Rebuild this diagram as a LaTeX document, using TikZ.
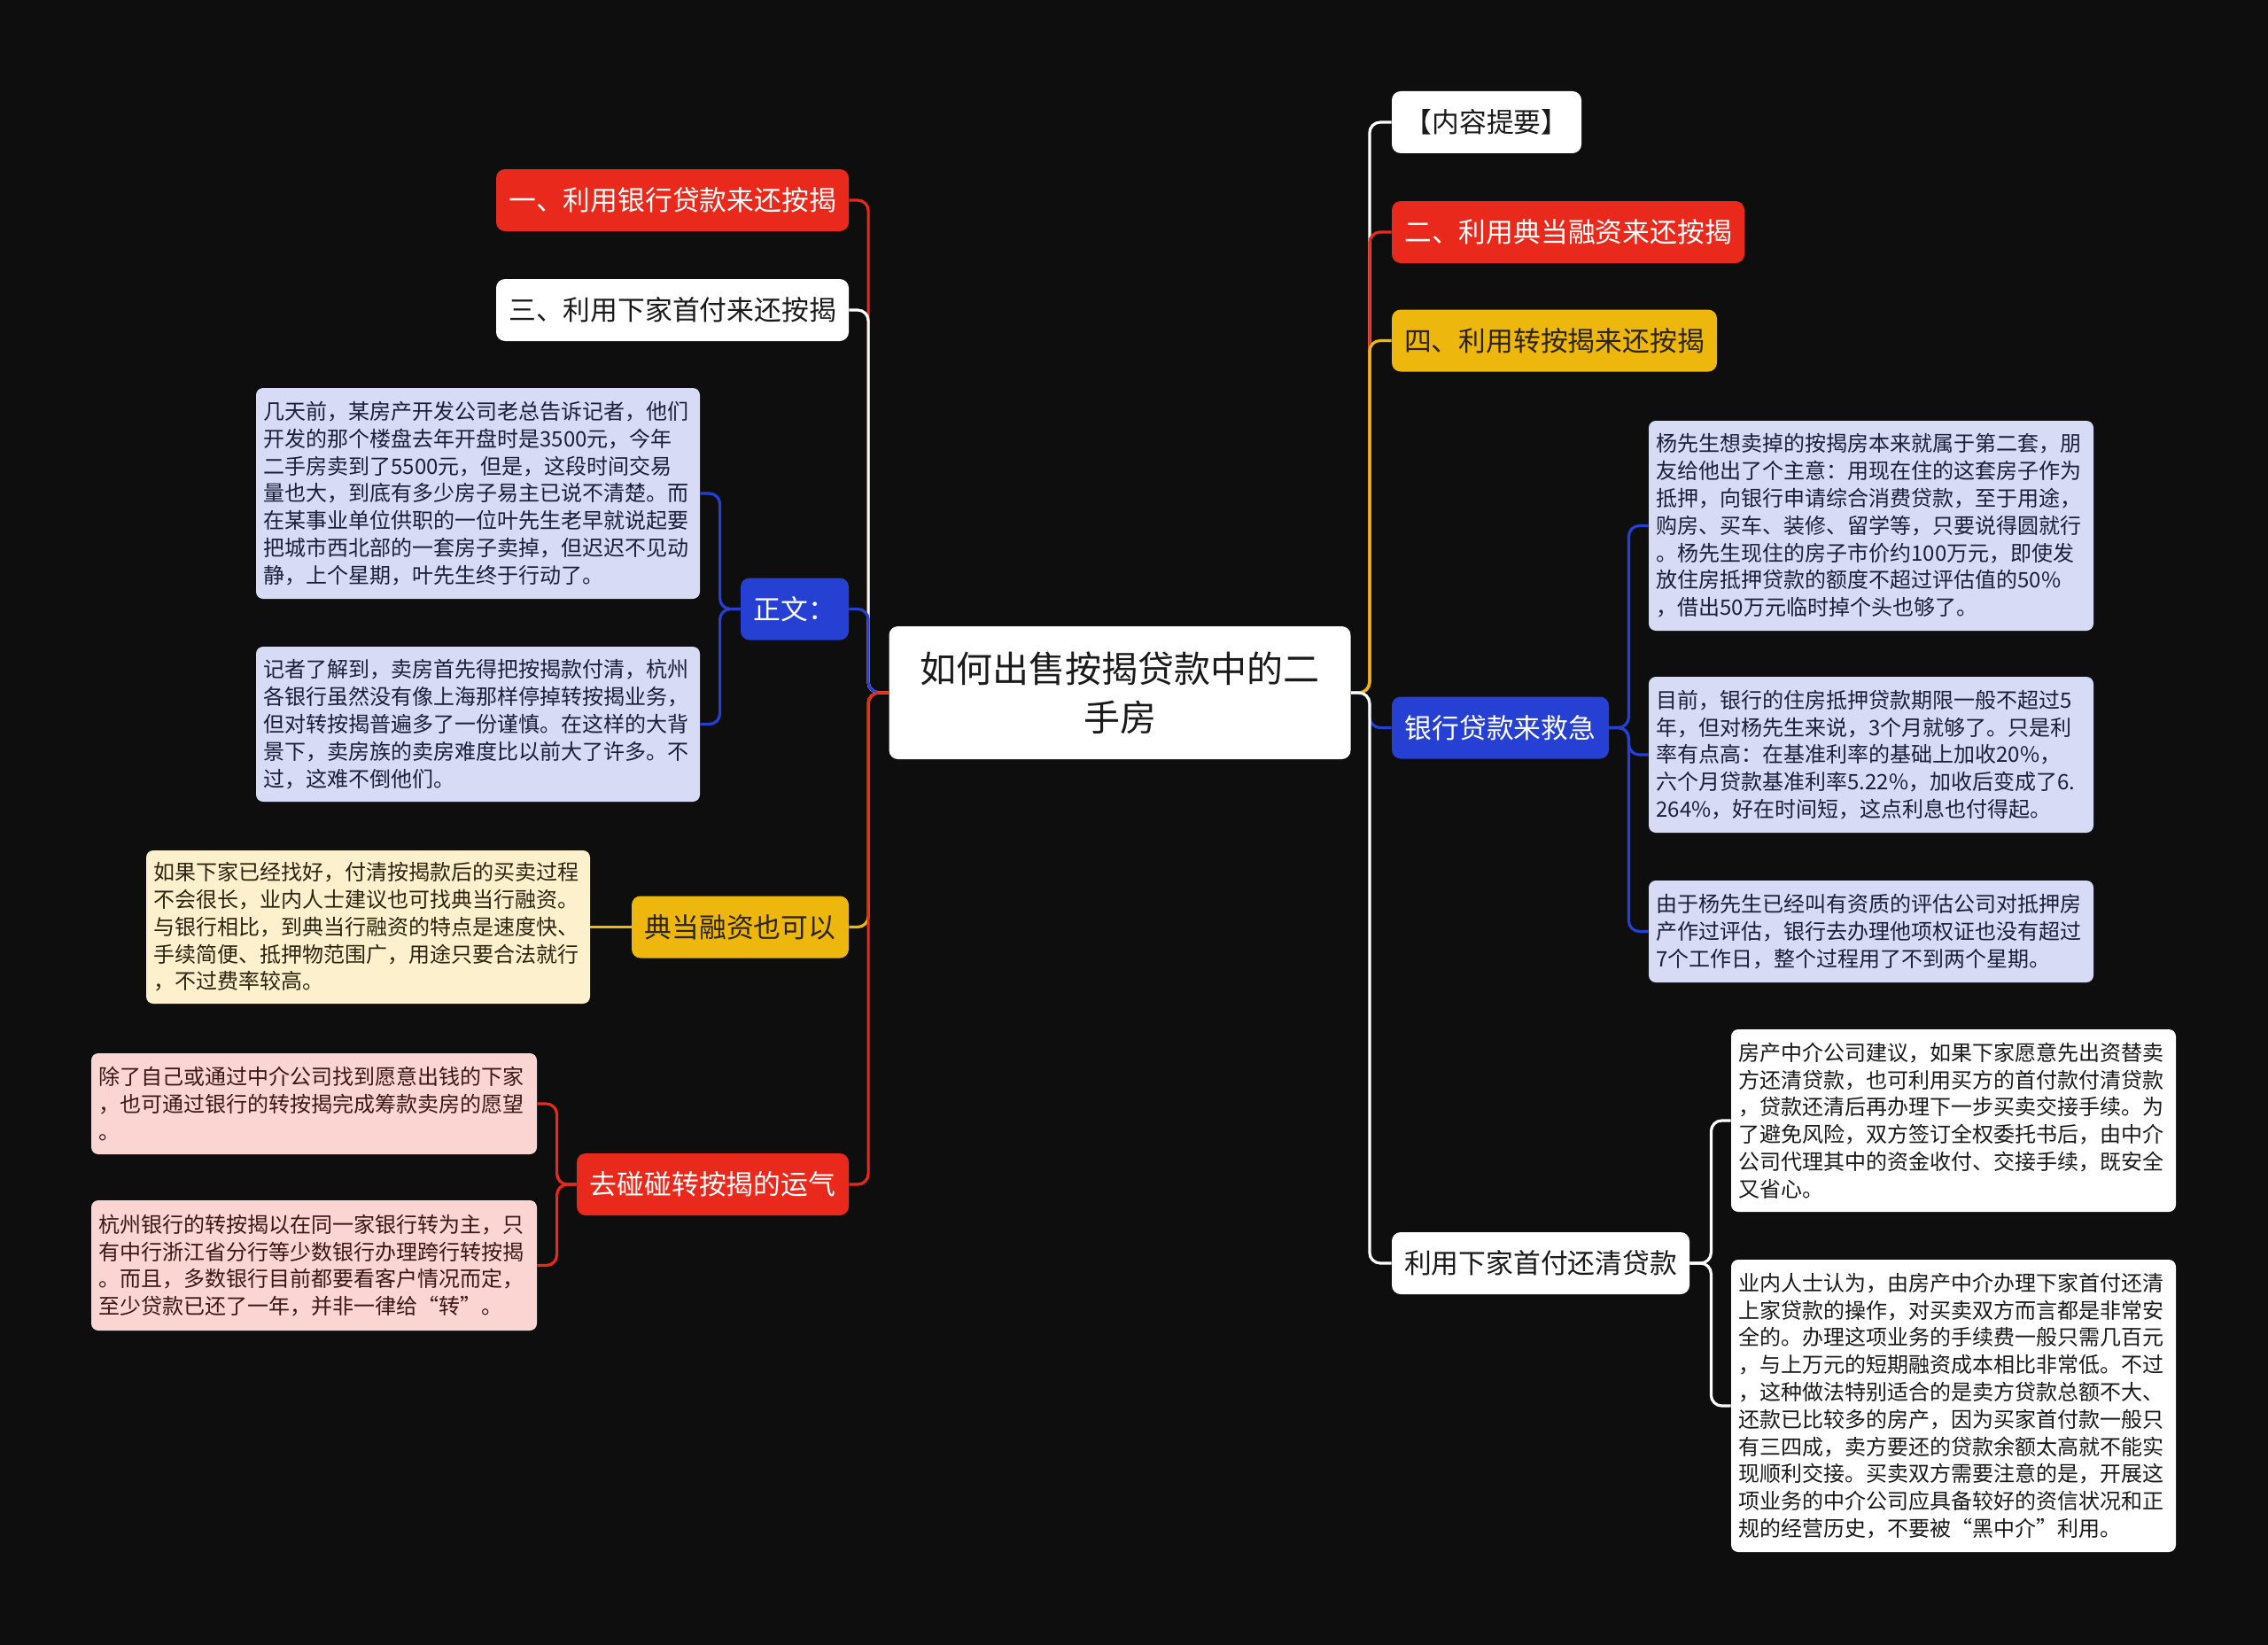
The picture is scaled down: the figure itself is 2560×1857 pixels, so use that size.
\documentclass[tikz,border=0pt]{standalone}
\usepackage{fontspec}
\setmainfont{Noto Sans CJK SC}
\definecolor{bg}{HTML}{0E0E0E}
\definecolor{cRed}{HTML}{E8291B}
\definecolor{cBlue}{HTML}{2640D4}
\definecolor{cYellow}{HTML}{EEB70E}
\definecolor{cLav}{HTML}{D7DBF6}
\definecolor{cCream}{HTML}{FCF0CD}
\definecolor{cPink}{HTML}{FAD5D2}
\definecolor{tDark}{HTML}{1A1A1A}
\definecolor{tNavy}{HTML}{1C1F38}
\definecolor{tBrown}{HTML}{2B2410}
\definecolor{tMaroon}{HTML}{3A1818}
\tikzset{
  topic/.style={rounded corners=5pt, inner sep=0pt, align=center, minimum height=35pt,
    font=\fontsize{15.4}{18}\selectfont},
  redtopic/.style={topic, fill=cRed, text=white},
  bluetopic/.style={topic, fill=cBlue, text=white},
  yellowtopic/.style={topic, fill=cYellow, text=tBrown},
  whitetopic/.style={topic, fill=white, text=tDark},
  para/.style={rounded corners=4pt, inner xsep=4.25pt, inner ysep=0pt, align=left,
    font=\fontsize{12}{15.4}\selectfont},
  lavpara/.style={para, fill=cLav, text=tNavy},
  creampara/.style={para, fill=cCream, text=tBrown},
  pinkpara/.style={para, fill=cPink, text=tMaroon},
  whitepara/.style={para, fill=white, text=tDark},
  conn/.style={line width=1.6pt, rounded corners=6pt},
}
\begin{document}
\begin{tikzpicture}[x=0.5pt,y=-0.5pt]
\fill[bg] (0,0) rectangle (2560,1857);
\useasboundingbox (0,0) rectangle (2560,1857);

% root
\node[rounded corners=5pt, fill=white, text=tDark, minimum width=260.5pt, minimum height=75pt,
  inner sep=0pt, align=center, font=\fontsize{20.5}{27.5}\selectfont] (root) at (1264,782)
  {如何出售按揭贷款中的二\\手房};

% left topics
\node[redtopic, minimum width=199pt] (l1) at (759,226) {一、利用银行贷款来还按揭};
\node[whitetopic, minimum width=199pt] (l2) at (759,350) {三、利用下家首付来还按揭};
\node[bluetopic, minimum width=61pt] (l3) at (897,687.5) {正文：};
\node[yellowtopic, minimum width=122.5pt] (l4) at (835.5,1046.5) {典当融资也可以};
\node[redtopic, minimum width=153.5pt] (l5) at (804.5,1337) {去碰碰转按揭的运气};

% right topics
\node[whitetopic, minimum width=107pt] (r1) at (1678,138) {【内容提要】};
\node[redtopic, minimum width=199pt] (r2) at (1770,262) {二、利用典当融资来还按揭};
\node[yellowtopic, minimum width=183.5pt] (r3) at (1754.5,384.5) {四、利用转按揭来还按揭};
\node[bluetopic, minimum width=122.5pt] (r4) at (1693.5,821.5) {银行贷款来救急};
\node[whitetopic, minimum width=168pt] (r5) at (1739,1426) {利用下家首付还清贷款};

% left paragraphs
\node[lavpara, text width=242pt, minimum height=119pt] (p1) at (539.5,557) {几天前，某房产开发公司老总告诉记者，他们\\开发的那个楼盘去年开盘时是3500元，今年\\二手房卖到了5500元，但是，这段时间交易\\量也大，到底有多少房子易主已说不清楚。而\\在某事业单位供职的一位叶先生老早就说起要\\把城市西北部的一套房子卖掉，但迟迟不见动\\静，上个星期，叶先生终于行动了。};
\node[lavpara, text width=242pt, minimum height=87.5pt] (p2) at (539.5,817.5) {记者了解到，卖房首先得把按揭款付清，杭州\\各银行虽然没有像上海那样停掉转按揭业务，\\但对转按揭普遍多了一份谨慎。在这样的大背\\景下，卖房族的卖房难度比以前大了许多。不\\过，这难不倒他们。};
\node[creampara, text width=242pt, minimum height=86.5pt] (p3) at (415.5,1046.5) {如果下家已经找好，付清按揭款后的买卖过程\\不会很长，业内人士建议也可找典当行融资。\\与银行相比，到典当行融资的特点是速度快、\\手续简便、抵押物范围广，用途只要合法就行\\，不过费率较高。};
\node[pinkpara, text width=243pt, minimum height=57pt] (p4) at (354.5,1246) {除了自己或通过中介公司找到愿意出钱的下家\\，也可通过银行的转按揭完成筹款卖房的愿望\\。};
\node[pinkpara, text width=243pt, minimum height=73.5pt] (p5) at (354.5,1428.5) {杭州银行的转按揭以在同一家银行转为主，只\\有中行浙江省分行等少数银行办理跨行转按揭\\。而且，多数银行目前都要看客户情况而定，\\至少贷款已还了一年，并非一律给“转”。};

% right paragraphs
\node[lavpara, text width=242.5pt, minimum height=118.5pt] (q1) at (2112,593.5) {杨先生想卖掉的按揭房本来就属于第二套，朋\\友给他出了个主意：用现在住的这套房子作为\\抵押，向银行申请综合消费贷款，至于用途，\\购房、买车、装修、留学等，只要说得圆就行\\。杨先生现住的房子市价约100万元，即使发\\放住房抵押贷款的额度不超过评估值的50\%\\，借出50万元临时掉个头也够了。};
\node[lavpara, text width=242.5pt, minimum height=88pt] (q2) at (2112,852) {目前，银行的住房抵押贷款期限一般不超过5\\年，但对杨先生来说，3个月就够了。只是利\\率有点高：在基准利率的基础上加收20\%，\\六个月贷款基准利率5.22\%，加收后变成了6.\\264\%，好在时间短，这点利息也付得起。};
\node[lavpara, text width=242.5pt, minimum height=57.5pt] (q3) at (2112,1051.5) {由于杨先生已经叫有资质的评估公司对抵押房\\产作过评估，银行去办理他项权证也没有超过\\7个工作日，整个过程用了不到两个星期。};
\node[whitepara, text width=242.5pt, minimum height=103pt] (q4) at (2205,1265) {房产中介公司建议，如果下家愿意先出资替卖\\方还清贷款，也可利用买方的首付款付清贷款\\，贷款还清后再办理下一步买卖交接手续。为\\了避免风险，双方签订全权委托书后，由中介\\公司代理其中的资金收付、交接手续，既安全\\又省心。};
\node[whitepara, text width=242.5pt, minimum height=165pt] (q5) at (2205,1587) {业内人士认为，由房产中介办理下家首付还清\\上家贷款的操作，对买卖双方而言都是非常安\\全的。办理这项业务的手续费一般只需几百元\\，与上万元的短期融资成本相比非常低。不过\\，这种做法特别适合的是卖方贷款总额不大、\\还款已比较多的房产，因为买家首付款一般只\\有三四成，卖方要还的贷款余额太高就不能实\\现顺利交接。买卖双方需要注意的是，开展这\\项业务的中介公司应具备较好的资信状况和正\\规的经营历史，不要被“黑中介”利用。};

% connectors: root -> left
\draw[conn, cRed] (root.west) -- ++(-23,0) |- (l1.east);
\draw[conn, white] (root.west) -- ++(-23,0) |- (l2.east);
\draw[conn, cBlue] (root.west) -- ++(-23,0) |- (l3.east);
\draw[conn, cYellow] (root.west) -- ++(-23,0) |- (l4.east);
\draw[conn, cRed] (root.west) -- ++(-23,0) |- (l5.east);
% root -> right
\draw[conn, white] (root.east) -- ++(21,0) |- (r1.west);
\draw[conn, cRed] (root.east) -- ++(21,0) |- (r2.west);
\draw[conn, cYellow] (root.east) -- ++(21,0) |- (r3.west);
\draw[conn, cBlue] (root.east) -- ++(21,0) |- (r4.west);
\draw[conn, white] (root.east) -- ++(21,0) |- (r5.west);
% sub-branches
\draw[conn, cBlue] (l3.west) -- ++(-23,0) |- (p1.east);
\draw[conn, cBlue] (l3.west) -- ++(-23,0) |- (p2.east);
\draw[conn, cYellow] (l4.west) -- (p3.east);
\draw[conn, cRed] (l5.west) -- ++(-22,0) |- (p4.east);
\draw[conn, cRed] (l5.west) -- ++(-22,0) |- (p5.east);
\draw[conn, cBlue] (r4.east) -- ++(22,0) |- (q1.west);
\draw[conn, cBlue] (r4.east) -- ++(22,0) |- (q2.west);
\draw[conn, cBlue] (r4.east) -- ++(22,0) |- (q3.west);
\draw[conn, white] (r5.east) -- ++(24,0) |- (q4.west);
\draw[conn, white] (r5.east) -- ++(24,0) |- (q5.west);
\end{tikzpicture}
\end{document}
